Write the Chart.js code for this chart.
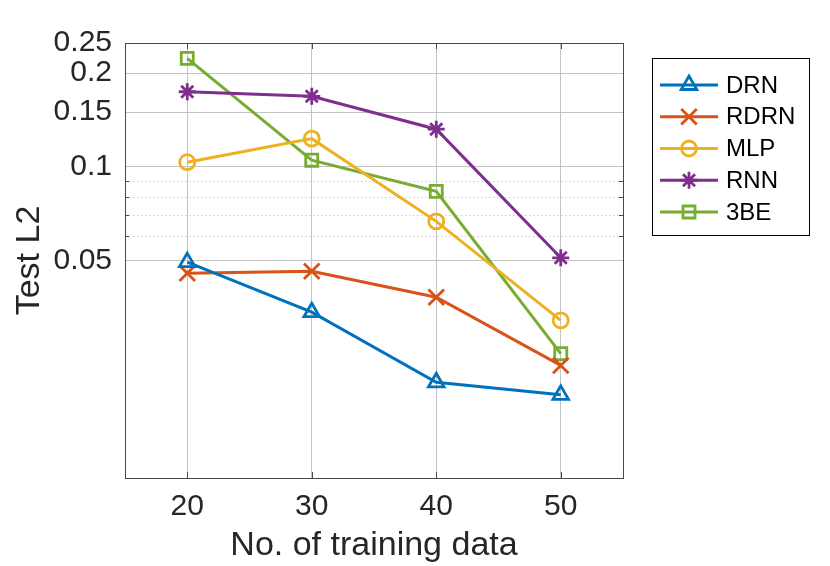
<!DOCTYPE html>
<html><head><meta charset="utf-8">
<script src="https://cdn.jsdelivr.net/npm/chart.js@4.4.1/dist/chart.umd.min.js"></script>
<style>html,body{margin:0;padding:0;background:#fff;}#wrap{width:830px;height:566px;}</style>
</head><body><div id="wrap"><canvas id="c" width="830" height="566"></canvas></div>
<script>
const categories = [20, 30, 40, 50];
const seriesNames = ['DRN', 'RDRN', 'MLP', 'RNN', '3BE'];
const drnValues = [0.0494, 0.0341, 0.0203, 0.0185];
const rdrnValues = [0.0455, 0.0462, 0.0381, 0.0230];
const mlpValues = [0.1035, 0.1232, 0.0668, 0.0321];
const rnnValues = [0.1743, 0.1685, 0.1321, 0.0510];
const tbeValues = [0.2230, 0.1050, 0.0834, 0.0251];
const xTickValues = [20, 30, 40, 50];
const yTickValues = [0.05, 0.1, 0.15, 0.2, 0.25];
const yMinorTickValues = [0.06, 0.07, 0.08, 0.09];

const seriesValues = [drnValues, rdrnValues, mlpValues, rnnValues, tbeValues];
const colors = ['#0072BD', '#D95319', '#EDB120', '#7E2F8E', '#77AC30'];
const markers = ['triangle', 'crossRot', 'circle', 'star', 'rect'];
const radii = [9, 11, 7.5, 8.5, 8.5];
const FONT = '"Liberation Sans", Arial, Helvetica, sans-serif';

const datasets = seriesNames.map((name, i) => ({
  label: name,
  data: categories.map((c, j) => ({x: c, y: seriesValues[i][j]})),
  borderColor: colors[i],
  backgroundColor: colors[i],
  borderWidth: 3,
  pointStyle: markers[i],
  pointRadius: radii[i],
  pointBorderWidth: 2.8,
  pointBorderColor: colors[i],
  pointBackgroundColor: 'rgba(0,0,0,0)',
  tension: 0,
  clip: false
}));

const frameAndExtras = {
  id: 'frameAndExtras',
  beforeDatasetsDraw(chart) {
    const {ctx, chartArea: a, scales} = chart;
    const y = scales.y;
    ctx.save();
    ctx.strokeStyle = '#cccccc';
    ctx.lineWidth = 1;
    ctx.setLineDash([1.5, 2.5]);
    yMinorTickValues.forEach(v => {
      const py = Math.round(y.getPixelForValue(v)) + 0.5;
      ctx.beginPath(); ctx.moveTo(a.left, py); ctx.lineTo(a.right, py); ctx.stroke();
    });
    ctx.setLineDash([]);
    ctx.strokeStyle = '#4a4a4a';
    ctx.lineWidth = 1;
    ctx.strokeRect(Math.round(a.left) + 0.5, Math.round(a.top) + 0.5, Math.round(a.right - a.left), Math.round(a.bottom - a.top));
    yMinorTickValues.forEach(v => {
      const py = Math.round(y.getPixelForValue(v)) + 0.5;
      ctx.beginPath();
      ctx.moveTo(a.left, py); ctx.lineTo(a.left + 4, py);
      ctx.moveTo(a.right, py); ctx.lineTo(a.right - 4, py);
      ctx.stroke();
    });
    const x = scales.x;
    xTickValues.forEach(v => {
      const px = Math.round(x.getPixelForValue(v)) + 0.5;
      ctx.beginPath();
      ctx.moveTo(px, a.bottom); ctx.lineTo(px, a.bottom - 6);
      ctx.moveTo(px, a.top); ctx.lineTo(px, a.top + 6);
      ctx.stroke();
    });
    ctx.restore();
  },
  afterDraw(chart) {
    const ctx = chart.ctx;
    ctx.save();
    const bx = 652, by = 58, bw = 157, bh = 177;
    ctx.fillStyle = '#fff';
    ctx.fillRect(bx, by, bw, bh);
    ctx.strokeStyle = '#000';
    ctx.lineWidth = 1;
    ctx.strokeRect(bx + 0.5, by + 0.5, bw, bh);
    chart.data.datasets.forEach((ds, i) => {
      const cy = 85 + i * 31.75;
      ctx.strokeStyle = ds.borderColor;
      ctx.lineWidth = 3;
      ctx.beginPath(); ctx.moveTo(660, cy); ctx.lineTo(718, cy); ctx.stroke();
      ctx.fillStyle = 'rgba(0,0,0,0)';
      ctx.lineWidth = 2.8;
      Chart.helpers.drawPoint(ctx, {pointStyle: ds.pointStyle, radius: ds.pointRadius, rotation: 0, borderWidth: 2.8}, 689, cy);
      ctx.fillStyle = '#000';
      ctx.font = '24px ' + FONT;
      ctx.textAlign = 'left';
      ctx.textBaseline = 'middle';
      ctx.fillText(ds.label, 726, cy + 1);
    });
    ctx.restore();
  }
};

new Chart(document.getElementById('c'), {
  type: 'line',
  data: {datasets},
  options: {
    responsive: false,
    animation: false,
    devicePixelRatio: 1,
    layout: {padding: {left: 0, top: 43, right: 207, bottom: 0}},
    plugins: {legend: {display: false}, tooltip: {enabled: false}},
    scales: {
      x: {
        type: 'linear', min: 15, max: 55,
        afterBuildTicks: s => { s.ticks = xTickValues.map(v => ({value: v})); },
        afterFit: s => { s.height = 88; },
        grid: {color: '#c4c4c4', lineWidth: 1, drawTicks: false},
        border: {display: false},
        ticks: {color: '#262626', padding: 11, font: {family: FONT, size: 30}, callback: v => String(v)},
        title: {display: true, text: 'No. of training data', color: '#262626', font: {family: FONT, size: 34}, padding: {top: 0, bottom: 0}}
      },
      y: {
        type: 'logarithmic', min: 0.01, max: 0.25,
        afterBuildTicks: s => { s.ticks = yTickValues.map(v => ({value: v})); },
        afterFit: s => { s.width = 125; },
        grid: {color: '#c4c4c4', lineWidth: 1, drawTicks: false},
        border: {display: false},
        ticks: {color: '#262626', padding: 13, font: {family: FONT, size: 30}, callback: v => String(v)},
        title: {display: true, text: 'Test L2', color: '#262626', font: {family: FONT, size: 34}, padding: {top: 9, bottom: 0}}
      }
    }
  },
  plugins: [frameAndExtras]
});
</script></body></html>
